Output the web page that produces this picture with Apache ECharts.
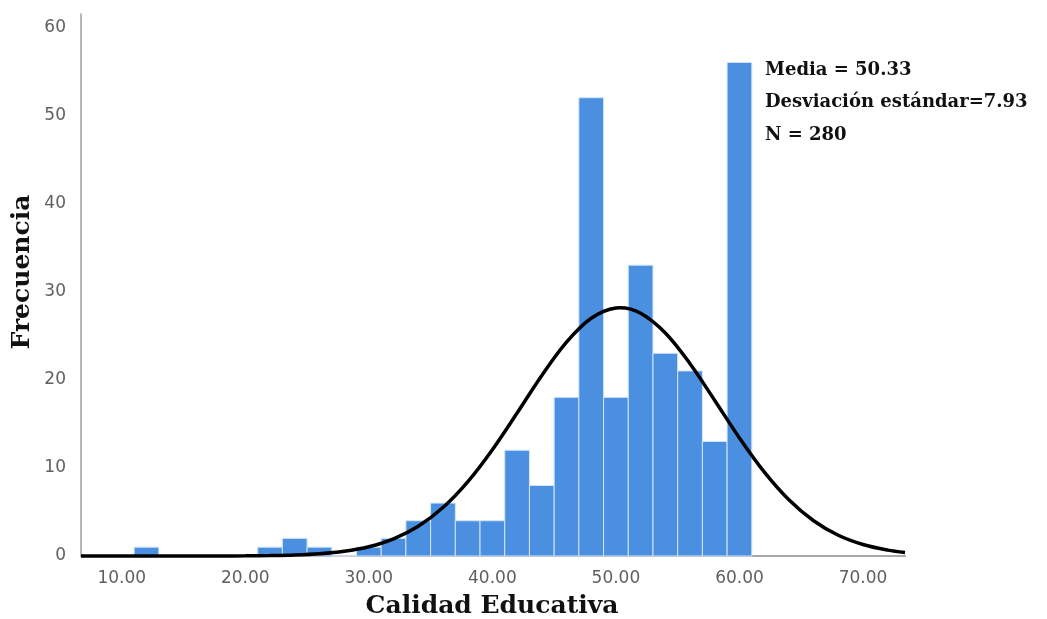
<!DOCTYPE html>
<html>
<head>
<meta charset="utf-8">
<script src="https://cdn.jsdelivr.net/npm/echarts@6/dist/echarts.min.js"></script>
<style>
html,body{margin:0;padding:0;background:#fff;}
#chart{width:1047px;height:619px;}
</style>
</head>
<body>
<div id="chart"></div>
<script>
// Histogram bins (centers) and frequencies
const binCenters = [12,14,16,18,20,22,24,26,28,30,32,34,36,38,40,42,44,46,48,50,52,54,56,58,60];
const frequencies = [1,0,0,0,0,1,2,1,0,1,2,4,6,4,4,12,8,18,52,18,33,23,21,13,56];
const binWidth = 2;
// Fitted normal curve
const curveX = [6.7,10,14,18,20,22,24,26,28,30,32,34,36,38,40,42,44,46,48,50,50.33,52,54,56,58,60,62,64,66,68,70,72,73.4];
const curveY = [0,0,0,0.007,0.019,0.048,0.114,0.254,0.534,1.05,1.95,3.38,5.50,8.41,12.06,16.22,20.49,24.27,26.98,28.15,28.17,27.55,25.31,21.82,17.65,13.39,9.54,6.38,4.00,2.35,1.30,0.67,0.41];
const xTicks = [10,20,30,40,50,60,70];
const yTicks = [0,10,20,30,40,50,60];
const statsLines = ['Media = 50.33','Desviación estándar=7.93','N = 280'];
const xTitle = 'Calidad Educativa';
const yTitle = 'Frecuencia';

const chart = echarts.init(document.getElementById('chart'), null, {renderer:'canvas'});
const barData = binCenters.map((c,i)=>[c - binWidth/2, c + binWidth/2, frequencies[i]]);
const curveData = curveX.map((x,i)=>[x, curveY[i]]);

const option = {
  animation:false,
  backgroundColor:'#fff',
  grid:{left:81, right:142, top:14, bottom:63, containLabel:false},
  xAxis:{
    type:'value', min:6.7, max:73.4,
    axisLine:{show:true, lineStyle:{color:'#a8a8a8', width:2}},
    axisTick:{show:false},
    splitLine:{show:false},
    axisLabel:{customValues:xTicks, formatter:v=>v.toFixed(2), color:'#606060', fontFamily:'DejaVu Sans', fontSize:17, margin:14}
  },
  yAxis:{
    type:'value', min:0, max:61.5,
    axisLine:{show:true, lineStyle:{color:'#a0a0a0', width:1.5}},
    axisTick:{show:false},
    splitLine:{show:false},
    axisLabel:{customValues:yTicks, color:'#606060', fontFamily:'DejaVu Sans', fontSize:17, margin:15}
  },
  series:[
    {
      type:'custom', z:2,
      data:barData,
      renderItem:function(params, api){
        const p0 = api.coord([api.value(0), api.value(2)]);
        const p1 = api.coord([api.value(1), 0]);
        return {type:'rect', shape:{x:p0[0], y:p0[1], width:p1[0]-p0[0], height:p1[1]-p0[1]},
          style:{fill:'#4a8fe0', stroke:'#d2e5f8', lineWidth:1}};
      }
    },
    {
      type:'line', z:5, data:curveData, showSymbol:false, smooth:0.35, clip:false,
      lineStyle:{color:'#000', width:3.5}
    }
  ],
  graphic:[
    {type:'text', left:765, top:61, style:{text:statsLines[0], font:'bold 18px "DejaVu Serif"', fill:'#111'}},
    {type:'text', left:765, top:93, style:{text:statsLines[1], font:'bold 18px "DejaVu Serif"', fill:'#111'}},
    {type:'text', left:765, top:126, style:{text:statsLines[2], font:'bold 18px "DejaVu Serif"', fill:'#111'}},
    {type:'text', x:492, y:606, style:{text:xTitle, font:'bold 25px "DejaVu Serif"', fill:'#111', align:'center', verticalAlign:'middle'}},
    {type:'text', x:22, y:272, rotation:Math.PI/2, style:{text:yTitle, font:'bold 25px "DejaVu Serif"', fill:'#111', align:'center', verticalAlign:'middle'}}
  ]
};
chart.setOption(option);
</script>
</body>
</html>
